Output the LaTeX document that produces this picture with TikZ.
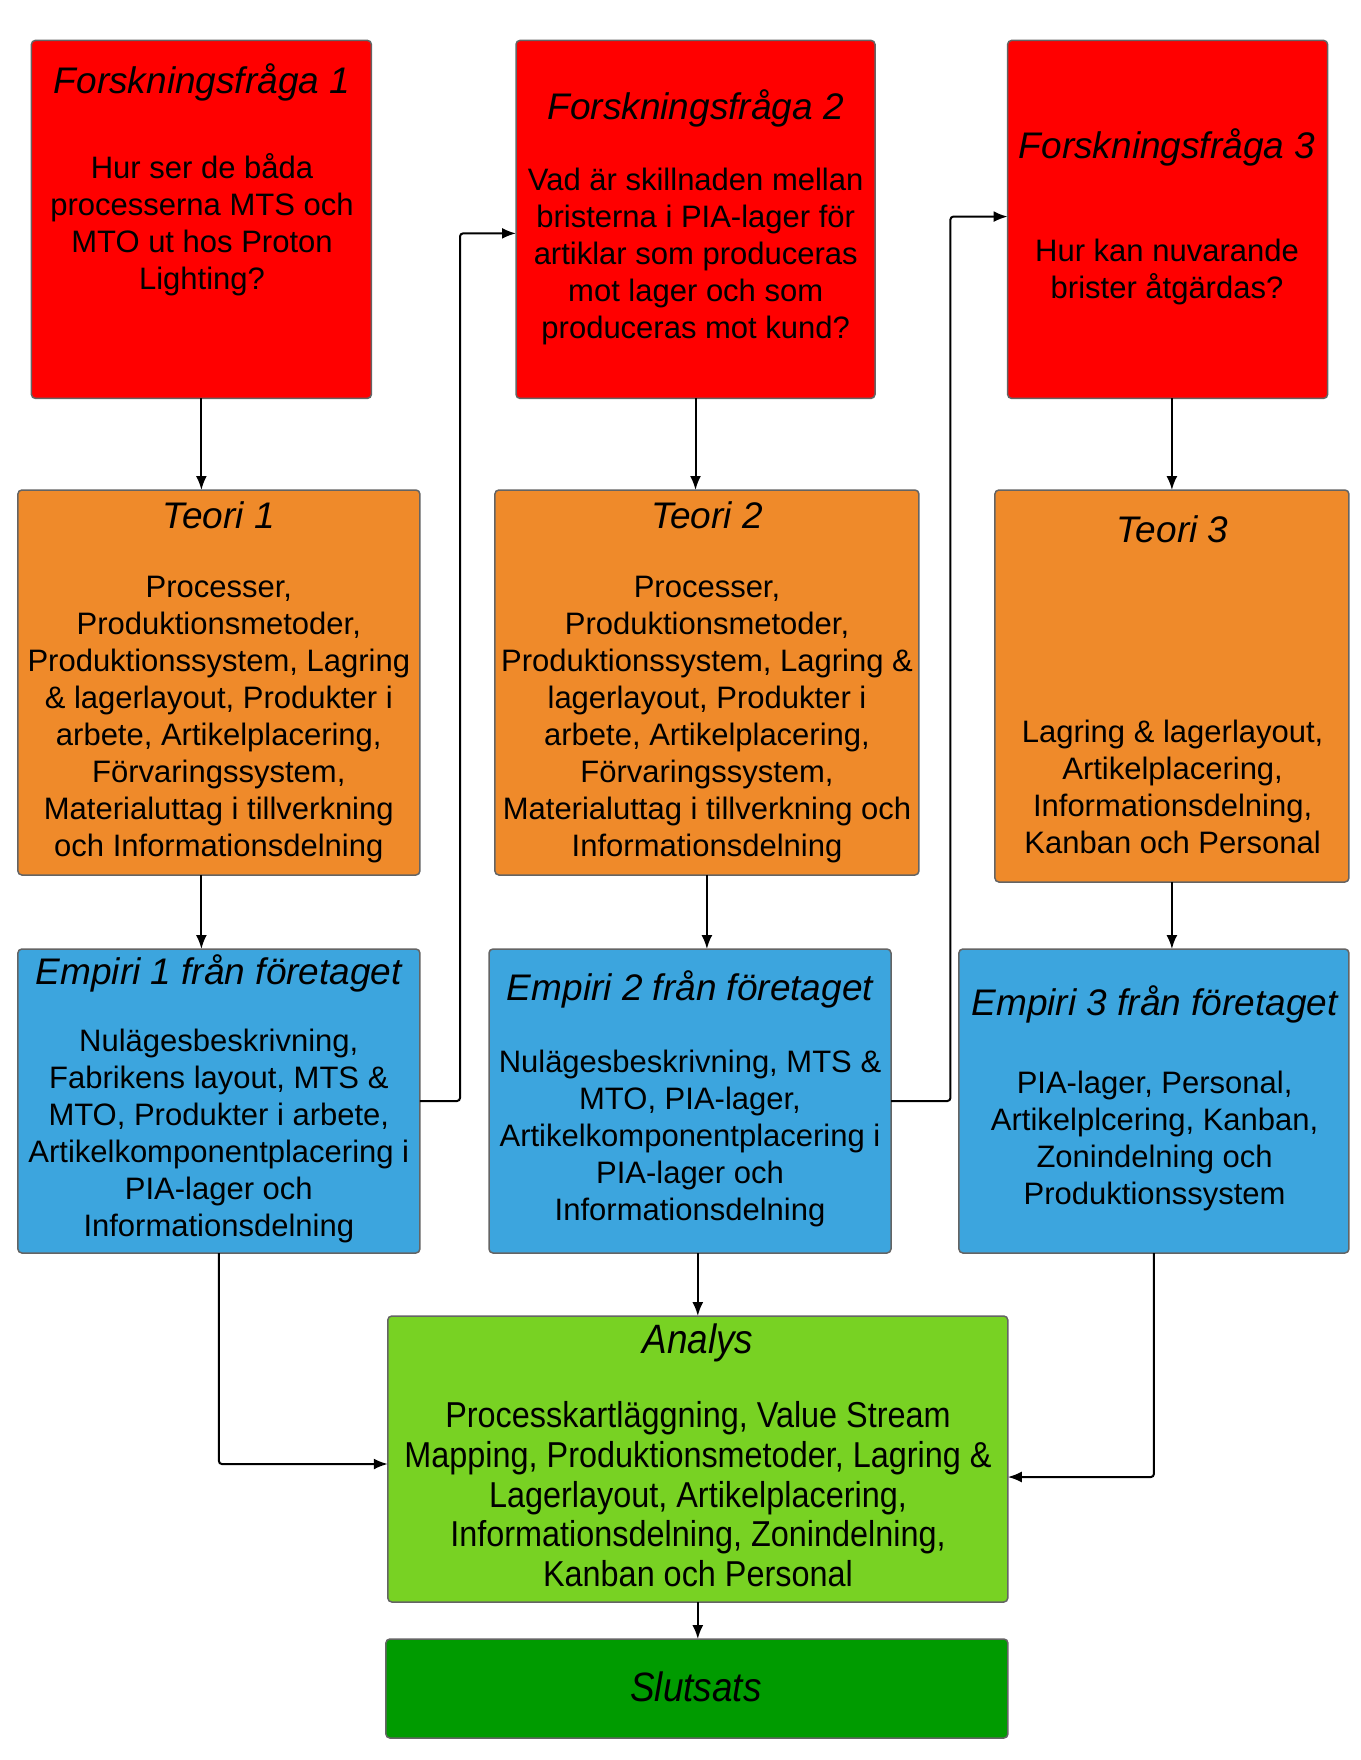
\documentclass[tikz,border=0pt]{standalone}
\usepackage{fontspec}
\setmainfont{Liberation Sans}
\newfontfamily\narrowsans[FakeStretch=0.9]{Liberation Sans}
\usetikzlibrary{arrows.meta}
\definecolor{ffred}{RGB}{255,0,0}
\definecolor{teoriorange}{RGB}{239,138,42}
\definecolor{empiriblue}{RGB}{60,165,222}
\definecolor{analysgreen}{RGB}{120,210,35}
\definecolor{slutgreen}{RGB}{0,155,0}
\definecolor{boxline}{RGB}{100,100,100}

\begin{document}
\begin{tikzpicture}[x=1pt,y=-1pt]
\tikzset{>={Latex[width=11pt,length=14pt]}}
\tikzstyle{box}=[draw=boxline,line width=1.5pt,rounded corners=4pt,inner sep=0pt,outer sep=0pt]
\tikzstyle{boxtitle}=[font=\fontsize{37}{44}\selectfont\itshape,inner sep=0pt,yshift=-2.5pt]
\tikzstyle{boxtext}=[font=\fontsize{31}{37}\selectfont,align=center,inner sep=0pt,yshift=-2.5pt]
\tikzstyle{narrowtitle}=[font=\narrowsans\fontsize{41}{48}\selectfont\itshape,inner sep=0pt,yshift=-3pt]
\tikzstyle{narrowtext}=[font=\narrowsans\fontsize{36}{39.8}\selectfont,align=center,inner sep=0pt]
\tikzstyle{conn}=[->,line width=2pt,rounded corners=3pt]

\useasboundingbox (0,0) rectangle (1360,1760);

\node[box,fill=ffred,minimum width=340pt,minimum height=358pt](ff1) at (201.4,219.4){};
\node[box,fill=ffred,minimum width=359pt,minimum height=358pt](ff2) at (695.5,219.4){};
\node[box,fill=ffred,minimum width=320pt,minimum height=358pt](ff3) at (1167.6,219.4){};

\node[box,fill=teoriorange,minimum width=402pt,minimum height=385pt](teori1) at (218.9,682.5){};
\node[box,fill=teoriorange,minimum width=424pt,minimum height=385pt](teori2) at (706.9,682.5){};
\node[box,fill=teoriorange,minimum width=354pt,minimum height=392pt](teori3) at (1171.9,686){};

\node[box,fill=empiriblue,minimum width=402pt,minimum height=304pt](emp1) at (218.9,1101){};
\node[box,fill=empiriblue,minimum width=402pt,minimum height=304pt](emp2) at (690,1101){};
\node[box,fill=empiriblue,minimum width=390pt,minimum height=304pt](emp3) at (1153.9,1101){};

\node[box,fill=analysgreen,minimum width=620pt,minimum height=286pt](analys) at (697.8,1459){};
\node[box,fill=slutgreen,minimum width=622pt,minimum height=99pt](slutsats) at (696.9,1688.5){};

\node[boxtitle](ff1t) at (202,79.7){Forskningsfråga 1};
\node[boxtext](ff1b) at (202,222.7){Hur ser de båda\\processerna MTS och\\MTO ut hos Proton\\Lighting?};
\node[boxtitle](ff2t) at (695.7,105.5){Forskningsfråga 2};
\node[boxtext](ff2b) at (695.7,254.1){Vad är skillnaden mellan\\bristerna i PIA-lager för\\artiklar som produceras\\mot lager och som\\produceras mot kund?};
\node[boxtitle](ff3t) at (1167,144.7){Forskningsfråga 3};
\node[boxtext](ff3b) at (1167,269.9){Hur kan nuvarande\\brister åtgärdas?};

\node[boxtitle](teori1t) at (218.8,512.8){Teori 1};
\node[boxtext](teori1b) at (218.8,716.9){Processer,\\Produktionsmetoder,\\Produktionssystem, Lagring\\\& lagerlayout, Produkter i\\arbete, Artikelplacering,\\Förvaringssystem,\\Materialuttag i tillverkning\\och Informationsdelning};
\node[boxtitle](teori2t) at (707,512.8){Teori 2};
\node[boxtext](teori2b) at (707,716.9){Processer,\\Produktionsmetoder,\\Produktionssystem, Lagring \&\\lagerlayout, Produkter i\\arbete, Artikelplacering,\\Förvaringssystem,\\Materialuttag i tillverkning och\\Informationsdelning};
\node[boxtitle](teori3t) at (1172.6,526.3){Teori 3};
\node[boxtext](teori3b) at (1172.6,784.9){Lagring \& lagerlayout,\\Artikelplacering,\\Informationsdelning,\\Kanban och Personal};

\node[boxtitle](emp1t) at (218.8,970.6){Empiri 1 från företaget};
\node[boxtext](emp1b) at (218.8,1133.1){Nulägesbeskrivning,\\Fabrikens layout, MTS \&\\MTO, Produkter i arbete,\\Artikelkomponentplacering i\\PIA-lager och\\Informationsdelning};
\node[boxtitle](emp2t) at (690,987.4){Empiri 2 från företaget};
\node[boxtext](emp2b) at (690,1135.8){Nulägesbeskrivning, MTS \&\\MTO, PIA-lager,\\Artikelkomponentplacering i\\PIA-lager och\\Informationsdelning};
\node[boxtitle](emp3t) at (1154.6,1002){Empiri 3 från företaget};
\node[boxtext](emp3b) at (1154.6,1138.4){PIA-lager, Personal,\\Artikelplcering, Kanban,\\Zonindelning och\\Produktionssystem};

\node[narrowtitle](analyst) at (698,1339.8){Analys};
\node[narrowtext](analysb) at (698,1494.2){Processkartläggning, Value Stream\\Mapping, Produktionsmetoder, Lagring \&\\Lagerlayout, Artikelplacering,\\Informationsdelning, Zonindelning,\\Kanban och Personal};
\node[narrowtitle](slutsatst) at (696,1684.2){Slutsats};

\coordinate (j1) at (460,233.4);
\coordinate (j2) at (950.4,216.6);

\draw [conn] (ff1.south) to (ff1.south |- teori1.north);
\draw [conn] (teori1.south -| ff1.south) to (ff1.south |- emp1.north);
\draw [conn] (emp1.east) -| (j1) -- (j1 -| ff2.west);
\draw [conn] (ff2.south) to (ff2.south |- teori2.north);
\draw [conn] (teori2.south) to (teori2.south |- emp2.north);
\draw [conn] (emp2.east) -| (j2) -- (j2 -| ff3.west);
\draw [conn] (ff3.south -| teori3.north) to (teori3.north);
\draw [conn] (teori3.south) to (teori3.south |- emp3.north);
\draw [conn] (emp2.south -| analys.north) to (analys.north);
\draw [conn] (emp1.south) |- ([yshift=-5pt]analys.west);
\draw [conn] (emp3.south) |- ([yshift=-18pt]analys.east);
\draw [conn] (analys.south) to (analys.south |- slutsats.north);
\end{tikzpicture}
\end{document}
